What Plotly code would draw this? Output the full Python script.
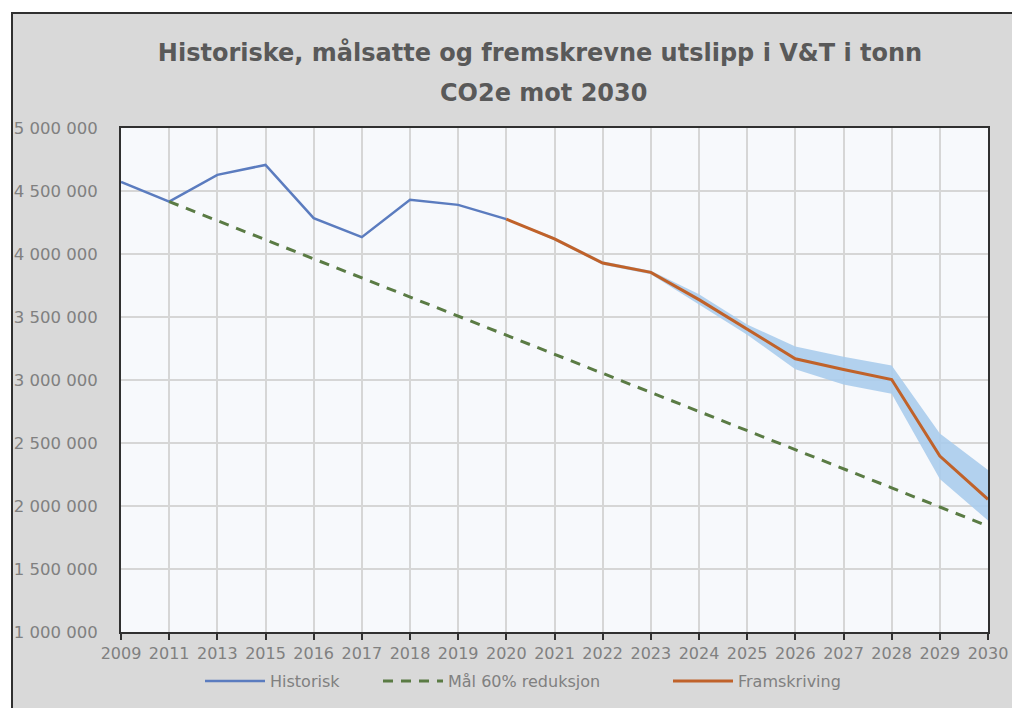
import plotly.graph_objects as go

years = ["2009", "2011", "2013", "2015", "2016", "2017", "2018", "2019", "2020",
         "2021", "2022", "2023", "2024", "2025", "2026", "2027", "2028", "2029", "2030"]

historisk = [4572000, 4416000, 4628000, 4707000, 4285000, 4134000, 4430000, 4390000, 4277000,
             None, None, None, None, None, None, None, None, None, None]

maal = [None, 4416000, 4265000, 4113000, 3962000, 3810000, 3659000, 3507000, 3356000,
        3204000, 3053000, 2901000, 2750000, 2598000, 2447000, 2295000, 2144000, 1992000, 1841000]

framskriving = [None, None, None, None, None, None, None, None, 4277000,
                4120000, 3928000, 3854000, 3638000, 3400000, 3168000, 3083000, 3004000, 2396000, 2053000]

band_upper = [None, None, None, None, None, None, None, None, 4280000,
              4132000, 3942000, 3868000, 3680000, 3440000, 3265000, 3185000, 3115000, 2575000, 2285000]

band_lower = [None, None, None, None, None, None, None, None, 4274000,
              4108000, 3914000, 3840000, 3600000, 3360000, 3085000, 2965000, 2890000, 2215000, 1885000]

y_ticks = [1000000, 1500000, 2000000, 2500000, 3000000, 3500000, 4000000, 4500000, 5000000]

title_line1 = "Historiske, målsatte og fremskrevne utslipp i V&T i tonn"
title_line2 = "CO2e mot 2030"

fig = go.Figure()

# uncertainty band
fig.add_trace(go.Scatter(x=years, y=band_upper, mode="lines", line=dict(width=0, color="#b7d4ee"),
                         showlegend=False, hoverinfo="skip"))
fig.add_trace(go.Scatter(x=years, y=band_lower, mode="lines", line=dict(width=0, color="#b7d4ee"),
                         fill="tonexty", fillcolor="rgba(170,204,236,0.9)",
                         showlegend=False, hoverinfo="skip"))

fig.add_trace(go.Scatter(x=years, y=historisk, mode="lines", name="Historisk",
                         line=dict(color="#5b7cbf", width=2.5), legend="legend"))
fig.add_trace(go.Scatter(x=years, y=maal, mode="lines", name="Mål 60% reduksjon",
                         line=dict(color="#5a7b44", width=3, dash="10px,8px"), legend="legend2"))
fig.add_trace(go.Scatter(x=years, y=framskriving, mode="lines", name="Framskriving",
                         line=dict(color="#c0622a", width=3), legend="legend3"))

W, H = 1012, 708
L, R, T, B = 121, 24, 128, 76
pw = W - L - R
ph = H - T - B


def px_x(p):
    return (p - L) / pw


def px_y(p):
    return (H - B - p) / ph


def legend_at(px_left):
    return dict(orientation="h", x=px_x(px_left), xanchor="left", y=px_y(681), yanchor="middle",
                font=dict(family="DejaVu Sans", size=16, color="#808080"),
                bgcolor="rgba(0,0,0,0)", itemwidth=60)


fig.update_layout(
    width=W, height=H,
    margin=dict(l=L, r=R, t=T, b=B, pad=0, autoexpand=False),
    paper_bgcolor="#d9d9d9",
    plot_bgcolor="#f7f9fc",
    separators=", ",
    font=dict(family="DejaVu Sans", color="#808080"),
    title=dict(text=title_line1, x=540 / W, xanchor="center",
               y=1 - 53 / H, yanchor="middle",
               yref="container", xref="container",
               font=dict(family="DejaVu Sans", size=24, color="#595959", weight="bold")),
    showlegend=True,
    legend=legend_at(200),
    legend2=legend_at(378),
    legend3=legend_at(668),
    shapes=[
        dict(type="rect", xref="paper", yref="paper", layer="below",
             x0=px_x(-5), x1=px_x(12), y0=px_y(720), y1=px_y(-5),
             fillcolor="white", line=dict(width=0)),
        dict(type="rect", xref="paper", yref="paper", layer="below",
             x0=px_x(-5), x1=px_x(1020), y0=px_y(13), y1=px_y(-5),
             fillcolor="white", line=dict(width=0)),
        dict(type="rect", xref="paper", yref="paper", layer="below",
             x0=px_x(12), x1=px_x(1030), y0=px_y(730), y1=px_y(13),
             fillcolor="rgba(0,0,0,0)", line=dict(color="#303030", width=2)),
    ],
    annotations=[dict(text=title_line2, xref="paper", yref="paper", x=px_x(543), y=px_y(93),
                      xanchor="center", yanchor="middle", showarrow=False,
                      font=dict(family="DejaVu Sans", size=24, color="#595959", weight="bold"))],
)

fig.update_xaxes(
    type="category", range=[0, 18], showgrid=True, gridcolor="#d6d6d6", gridwidth=1.5,
    showline=True, linecolor="#303030", linewidth=2, mirror=True,
    ticks="outside", ticklen=6, tickcolor="#303030", tickwidth=1.5,
    tickfont=dict(family="DejaVu Sans", size=16, color="#808080"),
    tickangle=0, zeroline=False, automargin=False,
)
fig.update_yaxes(
    range=[1000000, 5000000], tickvals=y_ticks, tickformat=",.0f",
    showgrid=True, gridcolor="#d6d6d6", gridwidth=1.5,
    showline=True, linecolor="#303030", linewidth=2, mirror=True,
    ticks="", ticklabelstandoff=18,
    tickfont=dict(family="DejaVu Sans", size=16.5, color="#808080"),
    zeroline=False, automargin=False,
)

fig.write_html(
    "out.html",
    config={"displayModeBar": False},
    post_script="document.body.style.margin='0';document.body.style.overflow='hidden';",
)
